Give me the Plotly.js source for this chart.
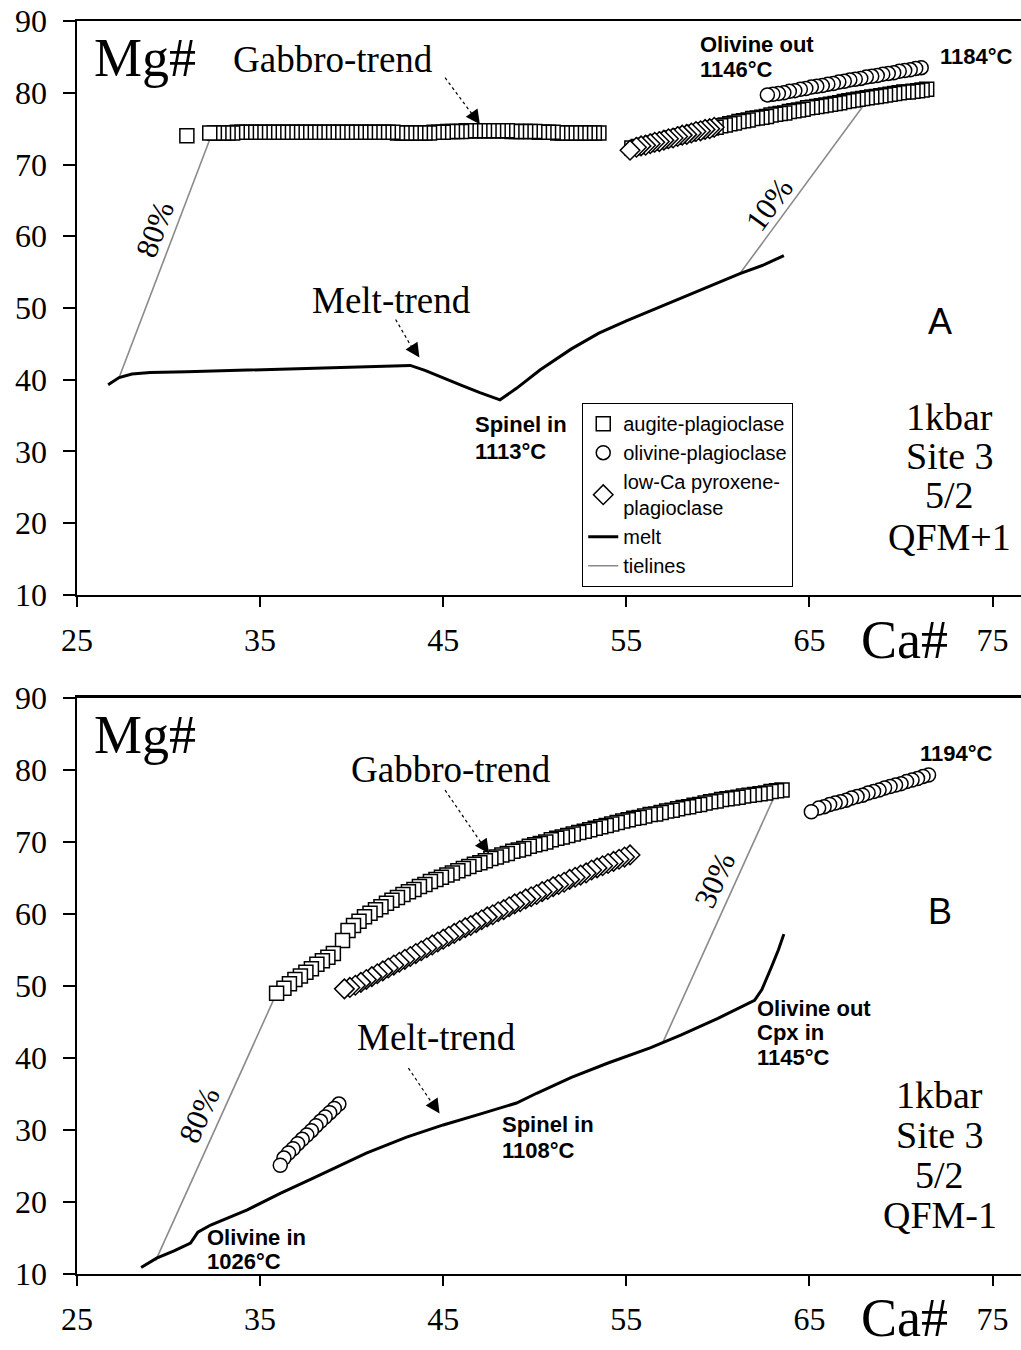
<!DOCTYPE html>
<html><head><meta charset="utf-8">
<script src="https://cdn.plot.ly/plotly-3.0.1.min.js"></script>
<style>body{margin:0;background:#fff}#g{width:1021px;height:1350px}</style>
</head><body><div id="g"></div>
<script>
// ---------- Panel A (QFM+1) ----------
const aAugX1 = [53.5,53.25,53.0,52.75,52.5,52.25,52.0,51.75,51.5,51.25,51.0,50.75,50.5,50.25,50.0,49.75,49.5,49.25,49.0,48.75,48.5,48.25,48.0,47.75,47.5,47.25,47.0,46.75,46.5,46.25,46.0,45.75,45.5,45.25,45.0,44.75,44.5,44.25,44.0,43.75,43.5,43.25,43.0,42.75,42.5,42.25,42.0,41.75,41.5,41.25,41.0,40.75,40.5,40.25,40.0,39.75,39.5,39.25,39.0,38.75,38.5,38.25,38.0,37.75,37.5,37.25,37.0,36.75,36.5,36.25,36.0,35.75,35.5,35.25,35.0,34.75,34.5,34.25,34.0,33.75,33.5,33.25,33.0,32.75,32.5,32.25,31.0];
const aAugY1 = [74.4,74.4,74.4,74.4,74.4,74.4,74.4,74.4,74.4,74.4,
  74.5,74.5,74.5,74.5,74.6,74.6,74.6,74.6,74.6,74.6,
  74.7,74.7,74.7,74.7,74.7,74.7,74.7,74.7,74.7,74.7,
  74.6,74.6,74.6,74.6,74.5,74.5,74.5,74.4,74.4,74.4,
  74.4,74.4,74.4,74.4,74.4,74.5,74.5,74.5,74.5,74.5,
  74.5,74.5,74.5,74.5,74.5,74.5,74.5,74.5,74.5,74.5,
  74.5,74.5,74.5,74.5,74.5,74.5,74.5,74.5,74.5,74.5,
  74.5,74.5,74.5,74.5,74.5,74.5,74.5,74.5,74.5,74.5,
  74.4,74.4,74.4,74.4,74.4,74.4,74.0];
const aAugX2 = [71.4,71.15,70.9,70.65,70.4,70.15,69.9,69.65,69.4,69.15,68.9,68.65,68.4,68.15,67.9,67.65,67.4,67.15,66.9,66.65,66.4,66.15,65.9,65.65,65.4,65.15,64.9,64.65,64.4,64.15,63.9,63.65,63.4,63.15,62.9,62.65,62.4,62.15,61.9,61.65,61.4,61.15,60.9,60.65,60.4,60.15,59.9,59.65,59.4,59.15,58.9,58.65,58.4,58.15,57.9,57.65,57.4,57.15,56.9,56.65,56.4,56.15,55.9,55.65,55.3];
const aAugY2 = [80.5,80.4,80.3,80.2,80.1,80.1,80.0,79.9,79.8,79.7,79.6,79.5,79.4,79.3,79.2,79.1,79.0,78.9,78.8,78.6,78.5,78.4,78.3,78.2,78.1,78.0,77.9,77.7,77.6,77.5,77.4,77.2,77.1,77.0,76.9,76.7,76.6,76.5,76.4,76.2,76.1,76.0,75.8,75.7,75.5,75.4,75.2,75.1,74.9,74.8,74.6,74.5,74.3,74.2,74.0,73.8,73.7,73.5,73.3,73.2,73.0,72.8,72.7,72.5,72.3];
const aOlX = [71.1,70.8,70.5,70.2,69.9,69.6,69.3,69.0,68.7,68.4,68.1,67.8,67.5,67.2,66.9,66.6,66.3,66.0,65.7,65.4,65.1,64.8,64.5,64.2,63.9,63.6,63.3,63.0,62.7];
const aOlY = [83.5,83.4,83.2,83.1,83.0,82.8,82.7,82.6,82.4,82.3,82.2,82.0,81.9,81.8,81.6,81.5,81.3,81.2,81.0,80.9,80.8,80.6,80.5,80.3,80.2,80.0,79.9,79.8,79.7];
const aLcpX = [59.8,59.55,59.3,59.05,58.8,58.55,58.3,58.05,57.8,57.55,57.3,57.05,56.8,56.55,56.3,56.05,55.8,55.55,55.2];
const aLcpY = [75.2,75.0,74.9,74.7,74.6,74.4,74.2,74.1,73.9,73.7,73.6,73.4,73.2,73.1,72.9,72.7,72.6,72.4,72.0];
const aMeltX = [26.7,27.3,28.0,29.0,31,34,37,40,43.2,44.0,45,46,47,48.1,49,50.3,52,53.5,55,57,59,61.2,62.5,63.6];
const aMeltY = [39.3,40.3,40.8,41.0,41.1,41.3,41.5,41.8,42.0,41.3,40.2,39.2,38.2,37.2,38.8,41.4,44.3,46.5,48.2,50.3,52.5,54.8,56.0,57.3];
const aTie80X = [27.3,32.4], aTie80Y = [40.3,74.5];
const aTie10X = [61.2,68.6], aTie10Y = [54.8,80.5];

// ---------- Panel B (QFM-1) ----------
const bAugX = [63.5,63.2,62.9,62.6,62.3,62.0,61.7,61.4,61.1,60.8,60.5,60.2,59.9,59.6,59.3,59.0,58.7,58.4,58.1,57.8,57.5,57.2,56.9,56.6,56.3,56.0,55.7,55.4,55.1,54.8,54.5,54.2,53.9,53.6,53.3,53.0,52.7,52.4,52.1,51.8,51.5,51.2,50.9,50.6,50.3,50.0,49.7,49.4,49.1,48.8,48.5,48.2,47.9,47.6,47.3,47.0,46.7,46.4,46.1,45.8,45.5,45.2,44.9,44.6,44.3,44.0,43.7,43.4,43.1,42.8,42.5,42.2,41.9,41.6,41.3,41.0,40.7,40.4,40.1,39.8,39.5,
  39.0,38.7,38.4,38.1,37.8,37.5,37.2,36.9,36.6,36.3,35.9];
const bAugY = [77.2,77.1,77.0,76.8,76.7,76.6,76.5,76.4,76.2,76.1,76.0,75.9,75.7,75.6,75.4,75.2,75.1,74.9,74.8,74.6,74.4,74.3,74.1,73.9,73.8,73.6,73.4,73.3,73.1,72.9,72.7,72.5,72.3,72.1,71.9,71.7,71.5,71.3,71.1,70.9,70.7,70.5,70.3,70.0,69.8,69.6,69.4,69.1,68.9,68.7,68.4,68.2,67.9,67.7,67.4,67.1,66.9,66.6,66.3,66.0,65.7,65.4,65.1,64.8,64.5,64.1,63.8,63.4,63.1,62.7,62.3,61.9,61.5,61.0,60.6,60.1,59.6,59.0,58.4,57.7,56.3,
  54.5,54.0,53.5,53.0,52.4,51.9,51.4,50.9,50.3,49.7,49.0];
const bLcpX = [55.2,54.9,54.6,54.3,54.0,53.7,53.4,53.1,52.8,52.5,52.2,51.9,51.6,51.3,51.0,50.7,50.4,50.1,49.8,49.5,49.2,48.9,48.6,48.3,48.0,47.7,47.4,47.1,46.8,46.5,46.2,45.9,45.6,45.3,45.0,44.7,44.4,44.1,43.8,43.5,43.2,42.9,42.6,42.3,42.0,41.7,41.4,41.1,40.8,40.5,40.2,39.9,39.6];
const bLcpY = [68.2,67.9,67.6,67.3,67.0,66.7,66.4,66.1,65.7,65.4,65.1,64.8,64.4,64.1,63.8,63.4,63.1,62.7,62.4,62.1,61.7,61.4,61.0,60.6,60.3,59.9,59.6,59.2,58.8,58.4,58.1,57.7,57.3,56.9,56.5,56.1,55.7,55.3,54.9,54.5,54.1,53.7,53.3,52.9,52.5,52.1,51.7,51.3,50.9,50.5,50.1,49.8,49.6];
const bOlX1 = [39.3,39.05,38.8,38.55,38.3,38.05,37.8,37.55,37.3,37.05,36.8,36.55,36.3,36.1];
const bOlY1 = [33.6,33.0,32.4,31.8,31.2,30.6,29.9,29.3,28.7,28.1,27.4,26.8,26.1,25.1];
const bOlX2 = [71.5,71.2,70.9,70.6,70.3,70.0,69.7,69.4,69.1,68.8,68.5,68.2,67.9,67.6,67.3,67.0,66.7,66.4,66.1,65.8,65.5,65.1];
const bOlY2 = [79.3,79.1,78.8,78.6,78.4,78.1,77.9,77.7,77.5,77.2,77.0,76.8,76.5,76.3,76.1,75.8,75.6,75.4,75.2,74.9,74.7,74.2];
const bMeltX = [28.5,29.35,30.3,31.2,31.6,32.3,34.3,36.1,37.9,40.8,43,45.0,47,49.0,50.1,52,54,56.3,58,60,62.0,62.4,62.9,63.3,63.6];
const bMeltY = [10.9,12.2,13.2,14.3,15.8,16.8,18.9,21.2,23.3,26.8,29.0,30.7,32.2,33.75,35.1,37.3,39.3,41.4,43.2,45.5,48.0,49.5,52.5,55.0,57.2];
const bTie80X = [29.3,35.9], bTie80Y = [11.9,49.0];
const bTie30X = [57.0,63.2], bTie30Y = [42.2,77.0];

const xTicks = [25,35,45,55,65,75];
const yTicks = [10,20,30,40,50,60,70,80,90];

const SERIF = '"Liberation Serif", "Times New Roman", serif';
const SANS = '"Liberation Sans", Arial, sans-serif';

function mk(x, y, sym, size, ax, name, show, group) {
  return {x:x, y:y, xaxis:ax[0], yaxis:ax[1], type:'scatter', mode:'markers', name:name,
    legendgroup:group, showlegend:show,
    marker:{symbol:sym, size:size, color:'#ffffff', line:{color:'#000000', width:1.5}}};
}
function ln(x, y, ax, name, show, group, color, width) {
  return {x:x, y:y, xaxis:ax[0], yaxis:ax[1], type:'scatter', mode:'lines', name:name,
    legendgroup:group, showlegend:show, line:{color:color, width:width}};
}
const A = ['x','y'], B = ['x2','y2'];
const TIE = '#8a8a8a';
const data = [
  ln(aTie80X, aTie80Y, A, 'tielines', false, 'tie', TIE, 1.6),
  ln(aTie10X, aTie10Y, A, 'tielines', false, 'tie', TIE, 1.6),
  ln(bTie80X, bTie80Y, B, 'tielines', false, 'tie', TIE, 1.6),
  ln(bTie30X, bTie30Y, B, 'tielines', false, 'tie', TIE, 1.6),
  mk(aAugX1, aAugY1, 'square', 14, A, 'augite-plagioclase', true, 'aug'),
  mk(aAugX2, aAugY2, 'square', 14, A, 'augite-plagioclase', false, 'aug'),
  mk(aOlX, aOlY, 'circle', 14, A, 'olivine-plagioclase', true, 'ol'),
  mk(aLcpX, aLcpY, 'diamond', 15, A, 'low-Ca pyroxene-<br>plagioclase', true, 'lcp'),
  ln(aMeltX, aMeltY, A, 'melt', true, 'melt', '#000000', 3),
  ln([null],[null], A, 'tielines', true, 'tie', TIE, 1.6),
  mk(bAugX, bAugY, 'square', 14, B, 'augite-plagioclase', false, 'aug'),
  mk(bLcpX, bLcpY, 'diamond', 15, B, 'low-Ca', false, 'lcp'),
  mk(bOlX1, bOlY1, 'circle', 14, B, 'ol', false, 'ol'),
  mk(bOlX2, bOlY2, 'circle', 14, B, 'ol', false, 'ol'),
  ln(bMeltX, bMeltY, B, 'melt', false, 'melt', '#000000', 3)
];

function T(ax, x, y, text, size, font, opts) {
  return Object.assign({xref:ax[0], yref:ax[1], x:x, y:y, text:text, showarrow:false,
    font:{family:font, size:size, color:'#000'}, xanchor:'center', yanchor:'middle'}, opts||{});
}
const BOLD = (t)=>'<b>'+t+'</b>';
const BS = 22;
const ann = [
  // Panel A
  T(A, 28.7, 84.8, 'Mg#', 54, SERIF),
  T(A, 39.0, 84.6, 'Gabbro-trend', 37, SERIF),
  T(A, 58.9, 86.7, BOLD('Olivine out'), BS, SANS, {xanchor:'left'}),
  T(A, 58.9, 83.2, BOLD('1146°C'), BS, SANS, {xanchor:'left'}),
  T(A, 72.0, 85.0, BOLD('1184°C'), BS, SANS, {xanchor:'left'}),
  T(A, 29.26, 60.9, '80%', 31, SERIF, {textangle:-69.5}),
  T(A, 62.8, 64.4, '10%', 31, SERIF, {textangle:-54}),
  T(A, 42.2, 51.1, 'Melt-trend', 37, SERIF),
  T(A, 46.6, 33.7, BOLD('Spinel in'), BS, SANS, {xanchor:'left'}),
  T(A, 46.6, 30.0, BOLD('1113°C'), BS, SANS, {xanchor:'left'}),
  T(A, 72.1, 48.1, 'A', 36, SANS),
  T(A, 72.65, 34.85, '1kbar', 38, SERIF),
  T(A, 72.65, 29.3, 'Site 3', 38, SERIF),
  T(A, 72.65, 24.0, '5/2', 38, SERIF),
  T(A, 72.65, 18.1, 'QFM+1', 38, SERIF),
  {xref:'x', yref:'paper', x:70.2, y:0.526, text:'Ca#', showarrow:false, xanchor:'center', yanchor:'middle',
    font:{family:SERIF, size:54, color:'#000'}},
  // Panel B
  T(B, 28.7, 84.9, 'Mg#', 54, SERIF),
  T(B, 45.4, 80.0, 'Gabbro-trend', 37, SERIF),
  T(B, 70.9, 82.3, BOLD('1194°C'), BS, SANS, {xanchor:'left'}),
  T(B, 72.1, 60.3, 'B', 36, SANS),
  T(B, 59.8, 64.7, '30%', 31, SERIF, {textangle:-65.7}),
  T(B, 31.7, 32.1, '80%', 31, SERIF, {textangle:-66}),
  T(B, 44.65, 42.9, 'Melt-trend', 37, SERIF),
  T(B, 48.1, 30.7, BOLD('Spinel in'), BS, SANS, {xanchor:'left'}),
  T(B, 48.1, 27.2, BOLD('1108°C'), BS, SANS, {xanchor:'left'}),
  T(B, 62.0, 46.9, BOLD('Olivine out'), BS, SANS, {xanchor:'left'}),
  T(B, 62.0, 43.5, BOLD('Cpx in'), BS, SANS, {xanchor:'left'}),
  T(B, 62.0, 40.0, BOLD('1145°C'), BS, SANS, {xanchor:'left'}),
  T(B, 32.0, 15.1, BOLD('Olivine in'), BS, SANS, {xanchor:'left'}),
  T(B, 32.0, 11.7, BOLD('1026°C'), BS, SANS, {xanchor:'left'}),
  T(B, 72.1, 34.9, '1kbar', 38, SERIF),
  T(B, 72.1, 29.3, 'Site 3', 38, SERIF),
  T(B, 72.1, 23.75, '5/2', 38, SERIF),
  T(B, 72.1, 18.2, 'QFM-1', 38, SERIF),
  {xref:'x2', yref:'paper', x:70.2, y:0.0237, text:'Ca#', showarrow:false, xanchor:'center', yanchor:'middle',
    font:{family:SERIF, size:54, color:'#000'}}
];
function head(ax, x, y, dx, dy) {
  return {xref:ax[0], yref:ax[1], x:x, y:y, ax:dx, ay:dy, text:'', showarrow:true,
    arrowhead:2, arrowsize:2.2, arrowwidth:1.3, arrowcolor:'#000'};
}
ann.push(head(A, 47.0, 75.6, -7, -10));
ann.push(head(A, 43.7, 43.1, -6, -9));
ann.push(head(B, 47.5, 68.4, -7, -10));
ann.push(head(B, 44.8, 32.3, -6, -9));

function dot(ax, x0, y0, x1, y1) {
  return {type:'line', xref:ax[0], yref:ax[1], x0:x0, y0:y0, x1:x1, y1:y1,
    line:{color:'#000', width:1.2, dash:'dot'}};
}
const shapes = [
  dot(A, 45.1, 82.1, 46.7, 76.6),
  dot(A, 42.4, 48.4, 43.4, 44.0),
  dot(B, 45.1, 77.2, 47.2, 69.4),
  dot(B, 43.1, 38.6, 44.5, 33.3)
];

const xBase = {range:[25,76.55], tickvals:xTicks, ticktext:xTicks.map(String), showgrid:false, zeroline:false,
  showline:true, linecolor:'#000', linewidth:2.5, mirror:true, ticks:'outside', ticklen:10, tickwidth:2, tickcolor:'#000',
  tickfont:{family:SERIF, size:32, color:'#000'}, ticklabelstandoff:5, fixedrange:true};
const yBase = {range:[10,90], tickvals:yTicks, ticktext:yTicks.map(String), showgrid:false, zeroline:false,
  showline:true, linecolor:'#000', linewidth:2.5, ticks:'outside', ticklen:12, tickwidth:2, tickcolor:'#000',
  tickfont:{family:SERIF, size:32, color:'#000'}, ticklabelstandoff:9, fixedrange:true};

const layout = {
  width:1021, height:1350, margin:{l:77, r:0, t:0, b:0}, paper_bgcolor:'#fff', plot_bgcolor:'#fff',
  xaxis: Object.assign({}, xBase, {domain:[0,1], anchor:'y'}),
  yaxis: Object.assign({}, yBase, {domain:[0.5593,0.9844], anchor:'x'}),
  xaxis2: Object.assign({}, xBase, {domain:[0,1], anchor:'y2'}),
  yaxis2: Object.assign({}, yBase, {domain:[0.0563,0.483], anchor:'x2'}),
  showlegend:true,
  legend:{x:0.535, y:0.7015, xanchor:'left', yanchor:'top', bgcolor:'#fff', bordercolor:'#000', borderwidth:1.2,
    font:{family:SANS, size:20, color:'#000'}, itemwidth:30, traceorder:'normal', tracegroupgap:0},
  annotations:ann, shapes:shapes
};
Plotly.newPlot('g', data, layout, {displayModeBar:false, staticPlot:true});
</script></body></html>
